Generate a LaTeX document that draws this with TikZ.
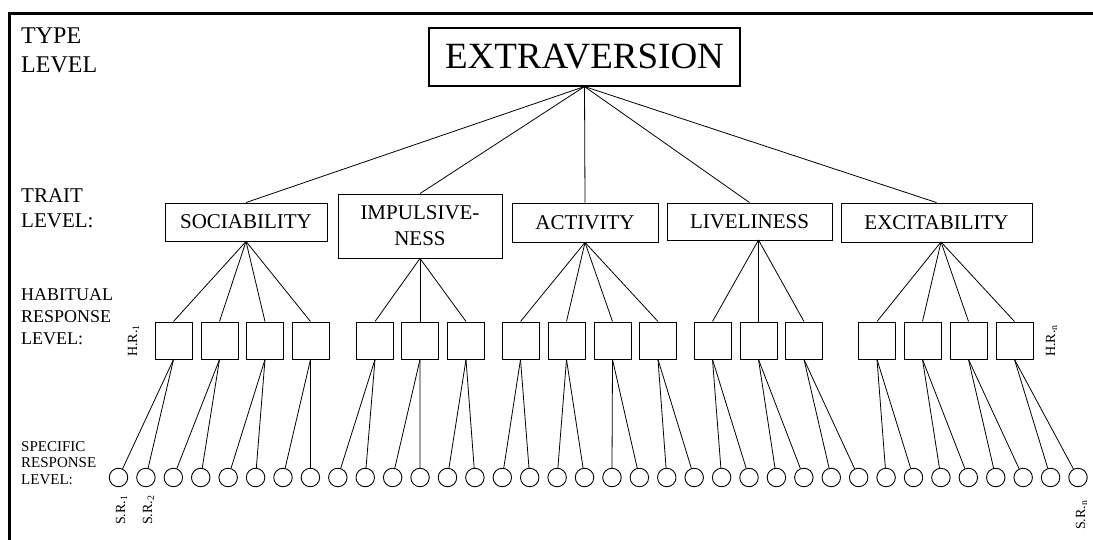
\documentclass[tikz,border=0pt]{standalone}
\usepackage{fontspec}
\setmainfont{Liberation Serif}
\begin{document}
\begin{tikzpicture}[x=1pt,y=-1pt,
  framebar/.style={line width=3pt},
  typebox/.style={draw, line width=1.1pt, inner sep=0, minimum width=311pt, minimum height=58pt, font=\fontsize{37}{40}\selectfont},
  traitbox/.style={draw, line width=0.9pt, inner sep=0, font=\fontsize{21}{26}\selectfont, align=center},
  hrbox/.style={draw, line width=1pt, inner sep=0, minimum size=37pt},
  srcirc/.style={draw, circle, line width=0.9pt, inner sep=0, minimum size=18.5pt},
  link/.style={line width=0.8pt},
  levellab/.style={inner sep=0, anchor=north west, align=left},
  idlab/.style={inner sep=0, rotate=90, anchor=base west, font=\fontsize{14}{16}\selectfont}
]
\useasboundingbox (0,0) rectangle (1093,540);

% frame on the top and left edges
\draw[framebar] (9,540) -- (9,13.5) -- (1093,13.5);

% level captions
\node[levellab, font=\fontsize{24}{29}\selectfont] (typelab) at (21,28) {TYPE\\LEVEL};
\node[levellab, font=\fontsize{21}{25}\selectfont] (traitlab) at (21,188) {TRAIT\\LEVEL:};
\node[levellab, font=\fontsize{18}{22}\selectfont] (hablab) at (21,288) {HABITUAL\\RESPONSE\\LEVEL:};
\node[levellab, font=\fontsize{15}{16.5}\selectfont] (speclab) at (21,441) {SPECIFIC\\RESPONSE\\LEVEL:};

% type level
\node[typebox] (ext) at (584.5,57) {EXTRAVERSION};

% trait level
\node[traitbox, minimum width=162pt, minimum height=38pt] (soc) at (246,222) {SOCIABILITY};
\node[traitbox, minimum width=164pt, minimum height=64pt] (imp) at (420,226) {IMPULSIVE-\\NESS};
\node[traitbox, minimum width=146pt, minimum height=39pt] (act) at (585,222.5) {ACTIVITY};
\node[traitbox, minimum width=165pt, minimum height=37pt] (liv) at (749.5,221.5) {LIVELINESS};
\node[traitbox, minimum width=191pt, minimum height=39pt] (exc) at (936.5,222.5) {EXCITABILITY};

\foreach \t in {soc,imp,act,liv,exc}
  \draw[link] (ext.south) -- (\t.north);

% points where the habitual-response links leave each trait box
\coordinate (socB) at (soc.south);
\coordinate (impB) at (imp.south);
\coordinate (actB) at (act.south);
\coordinate (livB) at (758.5,240);
\coordinate (excB) at (941,242);

% habitual response level
\foreach \x [count=\i] in {173.5,219.5,265,310.5, 375,420,466, 520.5,566.5,612.5,658, 712.5,758.5,804, 877,922.5,968.5,1014.5}
  \node[hrbox] (hr\i) at (\x,340.5) {};

\foreach \i in {1,...,4}   \draw[link] (socB) -- (hr\i.north);
\foreach \i in {5,...,7}   \draw[link] (impB) -- (hr\i.north);
\foreach \i in {8,...,11}  \draw[link] (actB) -- (hr\i.north);
\foreach \i in {12,...,14} \draw[link] (livB) -- (hr\i.north);
\foreach \i in {15,...,18} \draw[link] (excB) -- (hr\i.north);

% specific response level
\foreach \i in {1,...,36}
  \node[srcirc] (sr\i) at ({118.5+(\i-1)*27.414},477.5) {};

\foreach \i in {1,...,18} {
  \pgfmathtruncatemacro\srA{2*\i-1}
  \pgfmathtruncatemacro\srB{2*\i}
  \draw[link] (hr\i.south) -- (sr\srA);
  \draw[link] (hr\i.south) -- (sr\srB);
}

% index labels
\node[idlab] (hrfirst) at (137,357) {H.R.\textsubscript{1}};
\node[idlab] (hrlast) at (1055,357) {H.R.\textsubscript{n}};
\node[idlab] (srfirst) at (125,525) {S.R.\textsubscript{1}};
\node[idlab] (srsecond) at (152,525) {S.R.\textsubscript{2}};
\node[idlab] (srlast) at (1085,530) {S.R.\textsubscript{n}};
\end{tikzpicture}
\end{document}
